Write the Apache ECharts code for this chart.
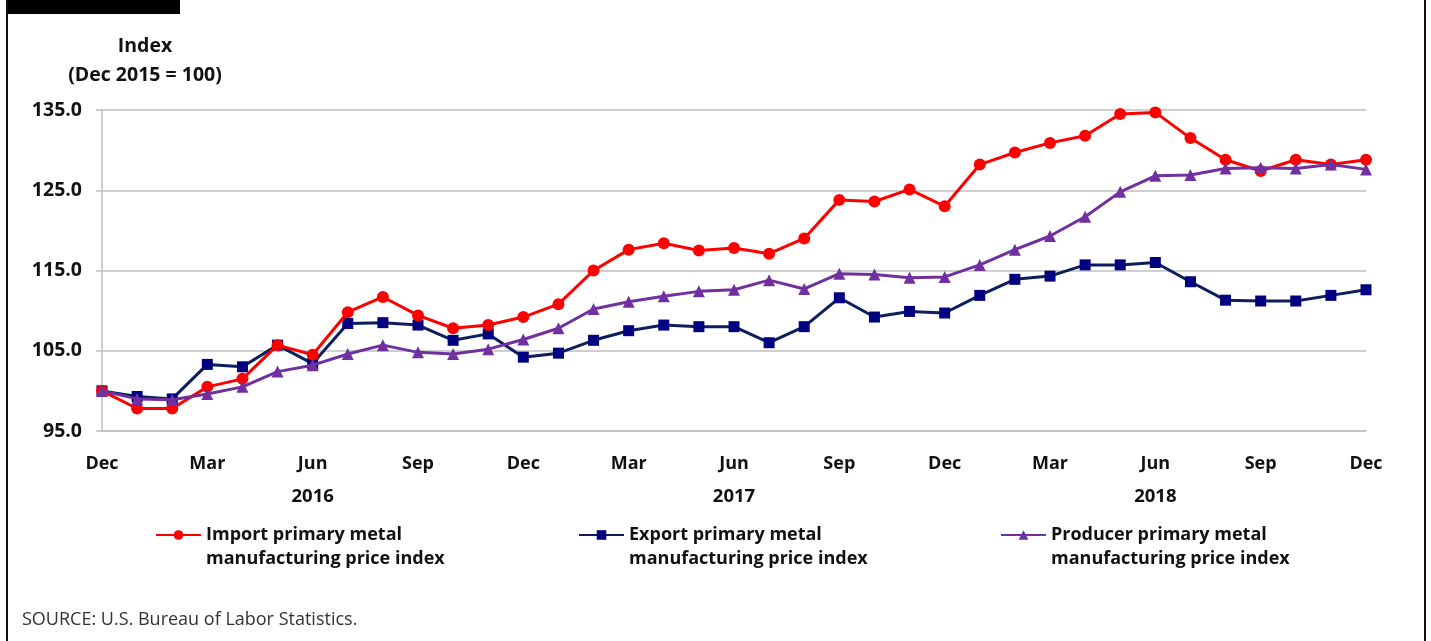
<!DOCTYPE html>
<html>
<head>
<meta charset="utf-8">
<script src="https://cdn.jsdelivr.net/npm/echarts@6/dist/echarts.min.js"></script>
<style>
html,body{margin:0;padding:0;background:#fff;}
#chart{width:1431px;height:641px;}
</style>
</head>
<body>
<div id="chart"></div>
<script>
// ---- data ----
const months = ['Dec','Jan','Feb','Mar','Apr','May','Jun','Jul','Aug','Sep','Oct','Nov',
  'Dec','Jan','Feb','Mar','Apr','May','Jun','Jul','Aug','Sep','Oct','Nov',
  'Dec','Jan','Feb','Mar','Apr','May','Jun','Jul','Aug','Sep','Oct','Nov','Dec'];
const yearLabels = ['','','','','','','2016','','','','','',
  '','','','','','','2017','','','','','',
  '','','','','','','2018','','','','','',''];
const importIdx = [100.0,97.8,97.8,100.5,101.5,105.7,104.5,109.8,111.7,109.4,107.8,108.2,
  109.2,110.8,115.0,117.6,118.4,117.5,117.8,117.1,119.0,123.8,123.6,125.1,
  123.0,128.2,129.7,130.9,131.8,134.5,134.7,131.5,128.8,127.4,128.8,128.2,128.8];
const exportIdx = [100.0,99.3,99.0,103.3,103.0,105.7,103.4,108.4,108.5,108.2,106.3,107.1,
  104.2,104.7,106.3,107.5,108.2,108.0,108.0,106.0,108.0,111.6,109.2,109.9,
  109.7,111.9,113.9,114.3,115.7,115.7,116.0,113.6,111.3,111.2,111.2,111.9,112.6];
const producerIdx = [100.0,99.0,98.9,99.6,100.5,102.4,103.2,104.6,105.7,104.8,104.6,105.2,
  106.4,107.8,110.2,111.1,111.8,112.4,112.6,113.8,112.7,114.6,114.5,114.1,
  114.2,115.7,117.6,119.3,121.7,124.8,126.8,126.9,127.7,127.8,127.7,128.2,127.6];
const seriesNames = ['Import primary metal\nmanufacturing price index',
  'Export primary metal\nmanufacturing price index',
  'Producer primary metal\nmanufacturing price index'];
const yTicks = {min:95, max:135, interval:10};

const FONT = '"Open Sans", Lato, sans-serif';
const chart = echarts.init(document.getElementById('chart'), null, {renderer:'canvas'});

function legendCfg(i, left){
  return {
    data:[seriesNames[i]], left:left, top:499, orient:'horizontal', padding:0,
    itemWidth:45, itemHeight:12, itemGap:4, selectedMode:false,
    formatter: n => '\n' + n,
    textStyle:{fontFamily:FONT, fontWeight:'bold', fontSize:18, color:'#111', lineHeight:24}
  };
}

chart.setOption({
  animation:false,
  backgroundColor:'#fff',
  grid:{left:102, right:65, top:110, bottom:210, containLabel:false},
  legend:[legendCfg(0,155), legendCfg(1,578), legendCfg(2,1000)],
  xAxis:[{
    type:'category', data:months, boundaryGap:false,
    axisLine:{show:true, lineStyle:{color:'#BFBFBF', width:1.5}},
    axisTick:{show:false},
    axisLabel:{interval:2, margin:24, fontFamily:FONT, fontWeight:'bold', fontSize:18, color:'#111'},
    splitLine:{show:false}
  },{
    type:'category', data:yearLabels, boundaryGap:false, position:'bottom', offset:32,
    axisLine:{show:false}, axisTick:{show:false}, splitLine:{show:false},
    axisLabel:{interval:0, margin:24, fontFamily:FONT, fontWeight:'bold', fontSize:18.5, color:'#111'}
  }],
  yAxis:{
    type:'value', min:yTicks.min, max:yTicks.max, interval:yTicks.interval,
    axisLine:{show:true, lineStyle:{color:'#BFBFBF', width:1.5}},
    axisTick:{show:true, length:6, lineStyle:{color:'#BFBFBF', width:1.5}},
    axisLabel:{margin:20, formatter:v=>v.toFixed(1), fontFamily:FONT, fontWeight:'bold', fontSize:19.5, color:'#111'},
    splitLine:{show:true, lineStyle:{color:'#BFBFBF', width:1.5}}
  },
  series:[{
    name:seriesNames[0], type:'line', data:importIdx, z:3,
    symbol:'circle', symbolSize:12,
    lineStyle:{color:'#FF0000', width:3},
    itemStyle:{color:'#FF0000'}
  },{
    name:seriesNames[1], type:'line', data:exportIdx, z:2,
    symbol:'rect', symbolSize:11,
    lineStyle:{color:'#0C1E5B', width:3},
    itemStyle:{color:'#000080'}
  },{
    name:seriesNames[2], type:'line', data:producerIdx, z:4,
    symbol:'triangle', symbolSize:12,
    lineStyle:{color:'#7030A0', width:3},
    itemStyle:{color:'#7030A0'}
  }],
  graphic:[
    {type:'rect', left:7, top:0, shape:{width:173, height:14}, style:{fill:'#000'}},
    {type:'rect', left:6, top:0, shape:{width:2, height:641}, style:{fill:'#111'}},
    {type:'rect', left:1424, top:0, shape:{width:2, height:641}, style:{fill:'#111'}},
    {type:'text', x:145, y:46, style:{text:'Index', textAlign:'center', textVerticalAlign:'middle',
      font:'bold 19.5px '+FONT, fill:'#111'}},
    {type:'text', x:145, y:75, style:{text:'(Dec 2015 = 100)', textAlign:'center', textVerticalAlign:'middle',
      font:'bold 19.5px '+FONT, fill:'#111'}},
    {type:'text', x:22, y:620, style:{text:'SOURCE: U.S. Bureau of Labor Statistics.', textAlign:'left', textVerticalAlign:'middle',
      font:'18px '+FONT, fill:'#333'}}
  ]
});
</script>
</body>
</html>
